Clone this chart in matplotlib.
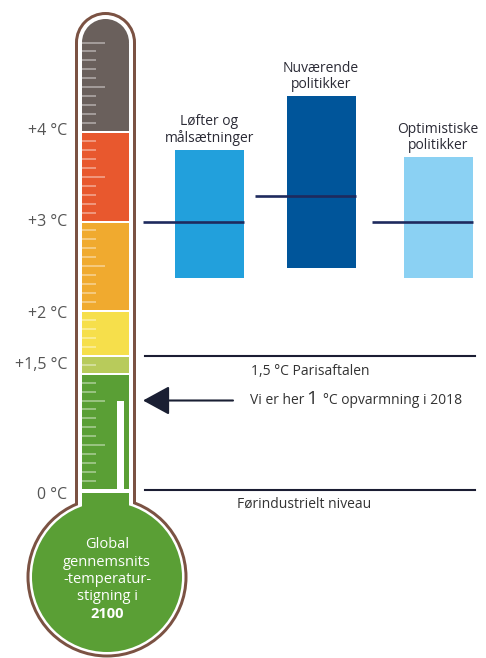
import matplotlib
matplotlib.use("Agg")
import matplotlib.pyplot as plt
from matplotlib.patches import Rectangle, Ellipse
import numpy as np

plt.rcParams['font.family'] = ['Open Sans', 'DejaVu Sans']

# scenario ranges for warming in 2100 (°C)
scenarios = ['Løfter og\nmålsætninger', 'Nuværende\npolitikker', 'Optimistiske\npolitikker']
range_low = [2.37, 2.48, 2.37]
range_high = [3.80, 4.40, 3.72]
median = [3.00, 3.28, 3.00]
bar_colors = ['#22a0dc', '#00559a', '#8bd1f3']

# thermometer colour bands
band_edges = [0.0, 1.3, 1.5, 2.0, 3.0, 4.0, 5.0]
band_colors = ['#5a9f35', '#b8cb5b', '#f6df4b', '#f0aa2f', '#e8582e', '#6a605c']

temp_values = [0, 1.5, 2, 3, 4]
temp_labels = ['0 °C', '+1,5 °C', '+2 °C', '+3 °C', '+4 °C']

bulb_lines = ['Global', 'gennemsnits', '-temperatur-', 'stigning i', '2100']

current_warming = 1.0
paris_limit = 1.5
preindustrial = 0.0

W, H = 486, 658
PPD = 89.5      # pixels per degree on the vertical scale
Y0 = 490        # pixel row of 0 °C

fig = plt.figure(figsize=(W / 100, H / 100), dpi=100)
ax = fig.add_axes([0, 0, 1, 1])
ax.set_xlim(0, W)
ax.set_ylim((Y0 - H) / PPD, Y0 / PPD)
ax.axis('off')

def dy(px):
    return px / PPD

def circ(xc, yc, r, color, z):
    ax.add_patch(Ellipse((xc, yc), 2 * r, dy(2 * r), color=color, lw=0, zorder=z))

# ---- thermometer body ----
cx = 105.5
bulb_y = -dy(87)
top_y = band_edges[-1]
brown, white = '#7b5243', 'white'
for inset, col, z in [(0, brown, 1), (3, white, 2)]:
    hw = 30.5 - inset
    ax.add_patch(Rectangle((cx - hw, bulb_y), 2 * hw, top_y - bulb_y, color=col, lw=0, zorder=z))
    circ(cx, top_y, hw, col, z)
    circ(cx + 1.5, bulb_y, 80.5 - inset, col, z)

# colour bands
hw = 23.5
gap = dy(1)
for lo, hi, col in zip(band_edges[:-1], band_edges[1:], band_colors):
    ax.add_patch(Rectangle((cx - hw, lo + gap), 2 * hw, hi - lo - 2 * gap, color=col, lw=0, zorder=3))
circ(cx, top_y, hw, band_colors[-1], 3)
# green continues into the bulb
ax.add_patch(Rectangle((cx - hw, bulb_y), 2 * hw, -dy(3) - bulb_y, color=band_colors[0], lw=0, zorder=3))
circ(cx + 1.5, bulb_y, 75, band_colors[0], 3)

# scale ticks
for t in np.round(np.arange(0.1, 5.01, 0.1), 2):
    if t in (1.3, 1.5, 2.0, 3.0, 4.0):
        continue
    long_tick = abs(t * 2 - round(t * 2)) < 1e-6
    ax.plot([82, 105 if long_tick else 96], [t, t], color='white', alpha=0.45, lw=1.2, zorder=4,
            solid_capstyle='butt')

# mercury marker for today's warming
ax.add_patch(Rectangle((117, -dy(3)), 7, current_warming + dy(3), color='white', lw=0, zorder=4))

for i, line in enumerate(bulb_lines):
    ax.text(cx + 1.5, -dy(55 + 17.3 * i), line, ha='center', va='center', color='white',
            fontsize=10.5, fontweight='bold' if line == '2100' else 'normal', zorder=5)

label_nudge = [5, 9, 3, 0, -1]   # px downward
for v, lab, n in zip(temp_values, temp_labels, label_nudge):
    ax.text(67, v - dy(n), lab, ha='right', va='center', fontsize=11.5, color='#555555')

# ---- scenario bars ----
xs = [209.5, 321, 438]
ax.bar(xs, np.array(range_high) - np.array(range_low), bottom=range_low, width=69,
       color=bar_colors, zorder=2)
for x, m, hi, lab in zip(xs, median, range_high, scenarios):
    ax.plot([x - 66.5, x + 34.5], [m, m], color='#1e2a5e', lw=1.9, zorder=3,
            solid_capstyle='butt')
    ax.annotate(lab, (x, hi), xytext=(0, 3), textcoords='offset points',
                ha='center', va='bottom', fontsize=10, color='#2b2b36', linespacing=1.05)

# ---- reference levels ----
ax.plot([145, 475], [paris_limit, paris_limit], color='#1b1d33', lw=1.5)
ax.text(310, paris_limit - dy(16), '1,5 °C Parisaftalen', ha='center', va='center',
        fontsize=10, color='#333333')
ax.plot([145, 475], [preindustrial, preindustrial], color='#1b1d33', lw=1.5)
ax.text(304, preindustrial - dy(14), 'Førindustrielt niveau', ha='center', va='center',
        fontsize=10, color='#333333')

ax.annotate('', xy=(143, current_warming), xytext=(233, current_warming),
            arrowprops=dict(arrowstyle='-|>,head_length=0.55,head_width=0.3',
                            mutation_scale=30, color='#1a1f33', lw=1.5,
                            shrinkA=0, shrinkB=0))
ax.text(250, current_warming, 'Vi er her', ha='left', va='center', fontsize=10, color='#333333')
ax.text(306, current_warming + dy(1), '1', ha='left', va='center', fontsize=14, color='#333333')
ax.text(323, current_warming, '°C opvarmning i 2018', ha='left', va='center', fontsize=10,
        color='#333333')

fig.savefig('out.png', dpi=100)
